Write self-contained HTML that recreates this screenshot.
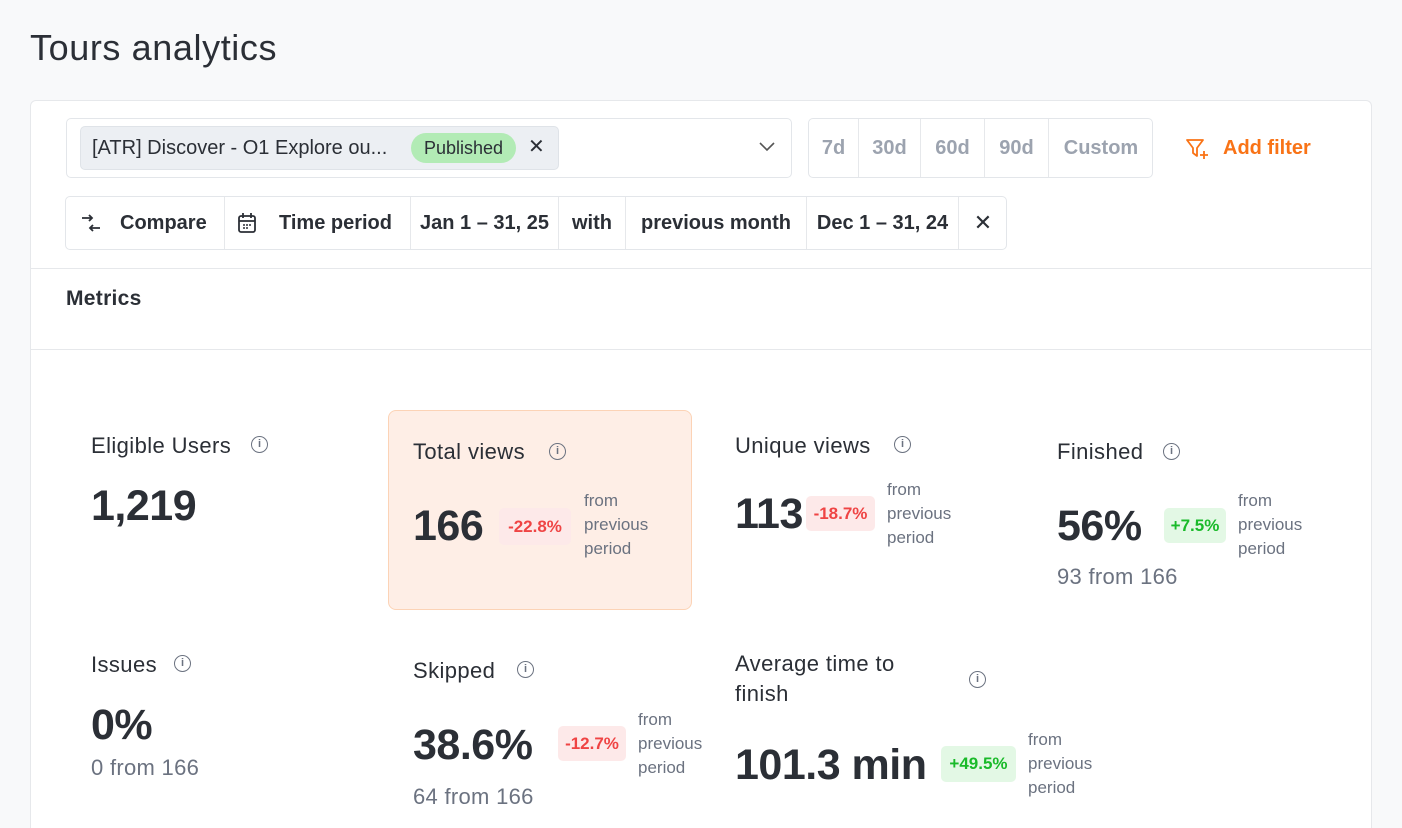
<!DOCTYPE html>
<html><head><meta charset="utf-8"><style>
*{box-sizing:border-box;margin:0;padding:0}
html,body{width:1402px;height:828px;overflow:hidden}
body{background:#f8f9fa;font-family:"Liberation Sans",sans-serif;color:#2b2f36;position:relative}
.a{position:absolute;line-height:1;white-space:nowrap}
.card{position:absolute;left:30px;top:100px;width:1342px;height:760px;background:#fff;border:1px solid #e6e8eb;border-radius:6px}
.hr{position:absolute;left:30px;width:1342px;height:1px;background:#e6e8eb}
.lbl{font-size:22px;color:#2b2f36;letter-spacing:0.4px}
.num{font-size:43px;font-weight:bold;color:#2b2f36;letter-spacing:-0.5px}
.side{font-size:17px;color:#6b7280;line-height:24px;white-space:normal}
.sub{font-size:22px;color:#6b7280;letter-spacing:0.3px}
.bad{position:absolute;border-radius:5px;font-size:17px;font-weight:bold;display:flex;align-items:center;justify-content:center}
.red{background:#fde9e9;color:#ef4444}
.grn{background:#e3f8e5;color:#1aba2a}
.ic{position:absolute;width:17px;height:17px;border:1.6px solid #6b7280;border-radius:50%;font-size:11px;color:#6b7280;text-align:center;line-height:14px;font-weight:bold}
.seg{position:absolute;top:0;height:100%;border-left:1px solid #e6e8eb;display:flex;align-items:center;justify-content:center;font-size:20px;font-weight:bold;color:#2b2f36}
</style></head><body>
<div class="a" style="left:30px;top:30px;font-size:36px;color:#2b2f36;letter-spacing:0.6px">Tours analytics</div>
<div class="card"></div>
<div class="hr" style="top:268px"></div>
<div class="hr" style="top:349px"></div>

<div style="position:absolute;left:66px;top:118px;width:726px;height:60px;border:1px solid #e3e6ea;border-radius:5px;background:#fff"></div>
<div style="position:absolute;left:80px;top:126px;width:479px;height:44px;background:#eceff3;border:1px solid #dfe3e8;border-radius:5px"></div>
<div class="a" style="left:92px;top:138px;font-size:20px;color:#2b2f36">[ATR] Discover - O1 Explore ou...</div>
<div style="position:absolute;left:411px;top:133px;width:105px;height:30px;background:#b2ebb5;border-radius:15px;font-size:18px;color:#2b2f36;display:flex;align-items:center;justify-content:center">Published</div>
<div class="a" style="left:528px;top:137px;font-size:20px;color:#2b2f36">✕</div>
<svg style="position:absolute;left:759px;top:142px" width="16" height="10"><path d="M1 1 L8 8 L15 1" fill="none" stroke="#555" stroke-width="1.6"/></svg>

<div style="position:absolute;left:808px;top:118px;width:345px;height:60px;border:1px solid #e3e6ea;border-radius:5px;background:#fff">
<div class="seg" style="left:0;width:49px;border-left:none;color:#9ca3af">7d</div>
<div class="seg" style="left:49px;width:62px;color:#9ca3af">30d</div>
<div class="seg" style="left:111px;width:64px;color:#9ca3af">60d</div>
<div class="seg" style="left:175px;width:64px;color:#9ca3af">90d</div>
<div class="seg" style="left:239px;width:105px;color:#9ca3af">Custom</div>
</div>
<svg style="position:absolute;left:1185px;top:137px" width="24" height="24"><path d="M2 3 H18 L12 11 V19 L8 16 V11 Z" fill="none" stroke="#f97316" stroke-width="1.8" stroke-linejoin="round"/><path d="M19 14 V22 M15 18 H23" stroke="#f97316" stroke-width="1.8"/></svg>
<div class="a" style="left:1223px;top:138px;font-size:20px;font-weight:bold;color:#f97316">Add filter</div>

<div style="position:absolute;left:65px;top:196px;width:942px;height:54px;border:1px solid #e3e6ea;border-radius:5px;background:#fff">
<div class="seg" style="left:0;width:158px;border-left:none;justify-content:flex-start;padding-left:54px">Compare</div>
<div class="seg" style="left:158px;width:186px;justify-content:flex-start;padding-left:54px">Time period</div>
<div class="seg" style="left:344px;width:148px">Jan 1 – 31, 25</div>
<div class="seg" style="left:492px;width:67px">with</div>
<div class="seg" style="left:559px;width:181px">previous month</div>
<div class="seg" style="left:740px;width:152px">Dec 1 – 31, 24</div>
<div class="seg" style="left:892px;width:49px;font-weight:normal;font-size:22px">✕</div>
</div>
<svg style="position:absolute;left:80px;top:212px" width="22" height="22"><path d="M2 6 H12 M9 3 L12 6 L9 9 M20 16 H10 M13 13 L10 16 L13 19" fill="none" stroke="#2b2f36" stroke-width="1.8"/></svg>
<svg style="position:absolute;left:237px;top:212px" width="20" height="22"><rect x="2" y="4" width="16" height="16" rx="2" fill="none" stroke="#2b2f36" stroke-width="1.8"/><path d="M6 1 V6 M14 1 V6 M2 9 H18" stroke="#2b2f36" stroke-width="1.8"/><path d="M6 13h2M9 13h2M12 13h2M6 16h2M9 16h2" stroke="#2b2f36" stroke-width="1.5"/></svg>

<div class="a" style="left:66px;top:288px;font-size:21px;font-weight:bold;letter-spacing:0.3px">Metrics</div>

<div style="position:absolute;left:388px;top:410px;width:304px;height:200px;background:#feeee6;border:1px solid #fcd3b6;border-radius:8px"></div>

<div class="a lbl" style="left:91px;top:435px">Eligible Users</div>
<div class="ic" style="left:251px;top:436px">i</div>
<div class="a num" style="left:91px;top:485px">1,219</div>

<div class="a lbl" style="left:413px;top:441px">Total views</div>
<div class="ic" style="left:549px;top:443px">i</div>
<div class="a num" style="left:413px;top:505px">166</div>
<div class="bad red" style="left:499px;top:508px;width:72px;height:37px">-22.8%</div>
<div class="a side" style="left:584px;top:489px">from<br>previous<br>period</div>

<div class="a lbl" style="left:735px;top:435px">Unique views</div>
<div class="ic" style="left:894px;top:436px">i</div>
<div class="a num" style="left:735px;top:493px">113</div>
<div class="bad red" style="left:806px;top:496px;width:69px;height:35px">-18.7%</div>
<div class="a side" style="left:887px;top:478px">from<br>previous<br>period</div>

<div class="a lbl" style="left:1057px;top:441px">Finished</div>
<div class="ic" style="left:1163px;top:443px">i</div>
<div class="a num" style="left:1057px;top:505px">56%</div>
<div class="bad grn" style="left:1164px;top:508px;width:62px;height:35px">+7.5%</div>
<div class="a side" style="left:1238px;top:489px">from<br>previous<br>period</div>
<div class="a sub" style="left:1057px;top:566px">93 from 166</div>

<div class="a lbl" style="left:91px;top:654px">Issues</div>
<div class="ic" style="left:174px;top:655px">i</div>
<div class="a num" style="left:91px;top:704px">0%</div>
<div class="a sub" style="left:91px;top:757px">0 from 166</div>

<div class="a lbl" style="left:413px;top:660px">Skipped</div>
<div class="ic" style="left:517px;top:661px">i</div>
<div class="a num" style="left:413px;top:724px">38.6%</div>
<div class="bad red" style="left:558px;top:726px;width:68px;height:35px">-12.7%</div>
<div class="a side" style="left:638px;top:708px">from<br>previous<br>period</div>
<div class="a sub" style="left:413px;top:786px">64 from 166</div>

<div class="a lbl" style="left:735px;line-height:30px;top:649px">Average time to<br>finish</div>
<div class="ic" style="left:969px;top:671px">i</div>
<div class="a num" style="left:735px;top:744px">101.3 min</div>
<div class="bad grn" style="left:941px;top:746px;width:75px;height:36px">+49.5%</div>
<div class="a side" style="left:1028px;top:728px">from<br>previous<br>period</div>
</body></html>
